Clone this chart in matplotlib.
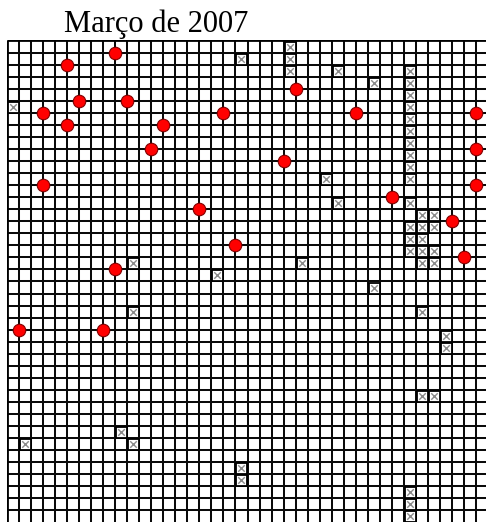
import matplotlib
matplotlib.use("Agg")
import matplotlib.pyplot as plt

# ---- data (grid coordinates: column, row) ----
title_text = "Março de 2007"
n_cells = 40

dot_cols = [9, 5, 6, 10, 3, 5, 13, 18, 24, 29, 39, 12, 39, 23, 3, 39, 32, 16, 37, 19, 38, 9, 1, 8]
dot_rows = [1, 2, 5, 5, 6, 7, 7, 6, 4, 6, 6, 9, 9, 10, 12, 12, 13, 14, 15, 17, 18, 19, 24, 24]

cross_cols = [0, 19, 23, 23, 23, 27, 30,
              33, 33, 33, 33, 33, 33, 33, 33, 33, 33,
              26, 33, 27, 34, 35, 33, 34, 35, 33, 34, 33, 34, 35, 34, 35,
              10, 24, 17, 30, 10, 34, 36, 36, 34, 35, 9, 10, 1, 19, 19, 33, 33, 33]
cross_rows = [5, 1, 0, 1, 2, 2, 3,
              2, 3, 4, 5, 6, 7, 8, 9, 10, 11,
              11, 13, 13, 14, 14, 15, 15, 15, 16, 16, 17, 17, 17, 18, 18,
              18, 18, 19, 20, 22, 22, 24, 25, 29, 29, 32, 33, 33, 35, 36, 37, 38, 39]

W, H, DPI = 486, 522, 100
fig = plt.figure(figsize=(W / DPI, H / DPI), dpi=DPI)
fig.patch.set_facecolor("white")

pitch = 12.05
left_px, top_px = 6.5, 40.5
ax = fig.add_axes([left_px / W, 1 - (top_px + pitch * n_cells) / H,
                   pitch * n_cells / W, pitch * n_cells / H])
ax.set_xlim(0, n_cells)
ax.set_ylim(n_cells, 0)
ax.axis("off")

ks = list(range(1, n_cells))
ax.vlines(ks, 0, n_cells, colors="#0a0a0a", linewidth=1.45, zorder=1)
ax.hlines(ks, 0, n_cells, colors="#0a0a0a", linewidth=1.45, zorder=1)
ax.vlines([0], 0, n_cells, colors="black", linewidth=2.0, zorder=2)
ax.hlines([0], 0, n_cells, colors="black", linewidth=2.0, zorder=2)

cx = [c + 0.5 for c in cross_cols]
cy = [r + 0.5 for r in cross_rows]
ax.scatter(cx, cy, marker="s", s=(11.0 * 0.72) ** 2, facecolor="white",
           edgecolor="black", linewidth=1.3, zorder=3)
ax.scatter(cx, cy, marker="x", s=(6.5 * 0.72) ** 2, color="#8a8a8a",
           linewidth=1.0, zorder=4)

ax.scatter(dot_cols, dot_rows, marker="o", s=(12.5 * 0.72) ** 2, facecolor="#ff0000",
           edgecolor="#800000", linewidth=0.8, zorder=5, clip_on=False)

fig.text(64 / W, 1 - 32 / H, title_text, family="Liberation Serif",
         fontsize=22, ha="left", va="baseline", color="black")

fig.savefig("out.png", dpi=DPI, facecolor="white")
